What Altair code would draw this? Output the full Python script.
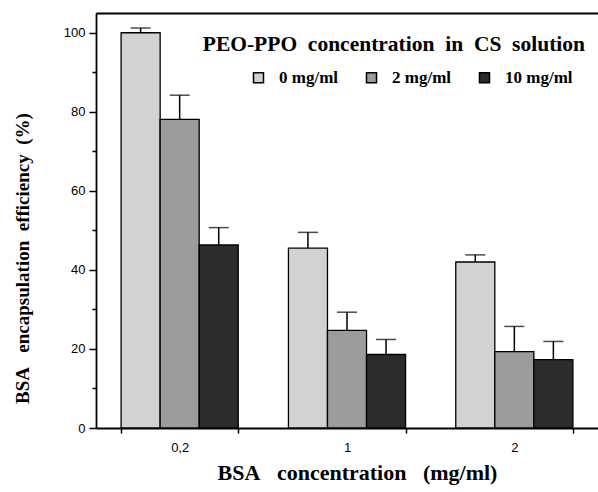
import altair as alt
import pandas as pd

# ---- data ----
bsa_conc = ["0,2", "1", "2"]
peo_levels = ["0 mg/ml", "2 mg/ml", "10 mg/ml"]
eff_0 = [100.0, 45.5, 42.0]
eff_2 = [78.1, 24.7, 19.3]
eff_10 = [46.3, 18.6, 17.3]
sd_0 = [1.2, 4.0, 1.8]
sd_2 = [6.1, 4.6, 6.4]
sd_10 = [4.4, 3.8, 4.6]
y_major = [0, 20, 40, 60, 80, 100]
y_minor = [10, 30, 50, 70, 90]
fills = ["#d2d2d2", "#9c9c9c", "#2c2c2c"]
strokes = ["black", "black", "black"]

rows = []
for lvl, effs, sds in zip(peo_levels, [eff_0, eff_2, eff_10], [sd_0, sd_2, sd_10]):
    for b, e, s in zip(bsa_conc, effs, sds):
        rows.append({"bsa": b, "peo": lvl, "eff": e, "upper": e + s})
df = pd.DataFrame(rows)

NB = "\u00a0"
x_title = "BSA" + NB * 3 + "concentration" + NB * 3 + "(mg/ml)"
y_title = "BSA" + NB * 3 + "encapsulation" + NB * 2 + "efficiency" + NB * 2 + "(%)"
leg_title = "PEO-PPO" + NB * 2 + "concentration" + NB * 2 + "in" + NB * 2 + "CS" + NB * 2 + "solution"

x_scale = alt.Scale(domain=bsa_conc, paddingInner=0.3, paddingOuter=0.15)
xo_scale = alt.Scale(domain=peo_levels, paddingInner=0, paddingOuter=0)
y_scale = alt.Scale(domain=[0, 105], nice=False, zero=True)

legend = alt.Legend(
    orient="none", legendX=154, legendY=56, direction="horizontal", title=None,
    symbolType="square", symbolSize=100, symbolStrokeWidth=1.5,
    symbolOpacity=1, labelFont="Liberation Serif", labelFontWeight="bold", labelFontSize=17,
    labelColor="black", labelOffset=12, columnPadding=24, padding=0)

bars = alt.Chart(df).mark_bar(strokeWidth=1.3).encode(
    x=alt.X("bsa:N", scale=x_scale, axis=alt.Axis(
        orient="bottom", title=x_title, labelAngle=0, tickBand="extent",
        tickSize=5, tickWidth=1.5, domainWidth=1.8, domainColor="black", tickColor="black",
        labelFont="Liberation Sans", labelFontSize=13, labelColor="black", labelPadding=8,
        titleFont="Liberation Serif", titleFontWeight="bold", titleFontSize=22, titleColor="black",
        titleX=261, titleY=44, titleBaseline="middle", titleAlign="center")),
    xOffset=alt.XOffset("peo:N", scale=xo_scale),
    y=alt.Y("eff:Q", scale=y_scale, axis=alt.Axis(
        orient="left", values=y_major, title=y_title, grid=False,
        tickSize=7, tickWidth=1.5, domainWidth=1.8, domainColor="black", tickColor="black",
        labelFont="Liberation Sans", labelFontSize=13, labelColor="black", labelPadding=4,
        titleFont="Liberation Serif", titleFontWeight="bold", titleFontSize=19, titleColor="black",
        titleX=-74, titleY=245, titleBaseline="middle", titleAlign="center", titleAngle=270)),
    fill=alt.Fill("peo:N", scale=alt.Scale(domain=peo_levels, range=fills), legend=legend),
    stroke=alt.Stroke("peo:N", scale=alt.Scale(domain=peo_levels, range=strokes), legend=legend),
)

rules = alt.Chart(df).mark_rule(color="black", strokeWidth=1.5).encode(
    x=alt.X("bsa:N", scale=x_scale, axis=alt.Axis(
        orient="top", title=None, labels=False, ticks=False, domain=True,
        domainWidth=1.8, domainColor="black")),
    xOffset=alt.XOffset("peo:N", scale=xo_scale),
    y=alt.Y("eff:Q", scale=y_scale, axis=alt.Axis(
        orient="left", values=y_minor, title=None, labels=False, domain=False, grid=False,
        tickSize=4, tickWidth=1.5, tickColor="black")),
    y2="upper:Q",
)

caps = alt.Chart(df).mark_tick(color="black", thickness=1.5, size=20, orient="horizontal").encode(
    x=alt.X("bsa:N", scale=x_scale, axis=None),
    xOffset=alt.XOffset("peo:N", scale=xo_scale),
    y=alt.Y("upper:Q", scale=y_scale, axis=None),
)

chart = alt.layer(bars, rules, caps).resolve_axis(
    x="independent", y="independent"
).properties(
    width=502, height=415,
    autosize=alt.AutoSizeParams(type="none"),
    padding={"left": 96, "top": 13, "right": 0, "bottom": 64},
    title=alt.TitleParams(
        text=leg_title, anchor="end", frame="group", orient="top", offset=0,
        dx=-13, dy=53, baseline="middle", font="Liberation Serif", fontWeight="bold",
        fontSize=21.5, color="black"),
).configure_view(stroke=None).configure(background="white")

chart.save("out.html", embed_options={"renderer": "svg", "actions": False})
